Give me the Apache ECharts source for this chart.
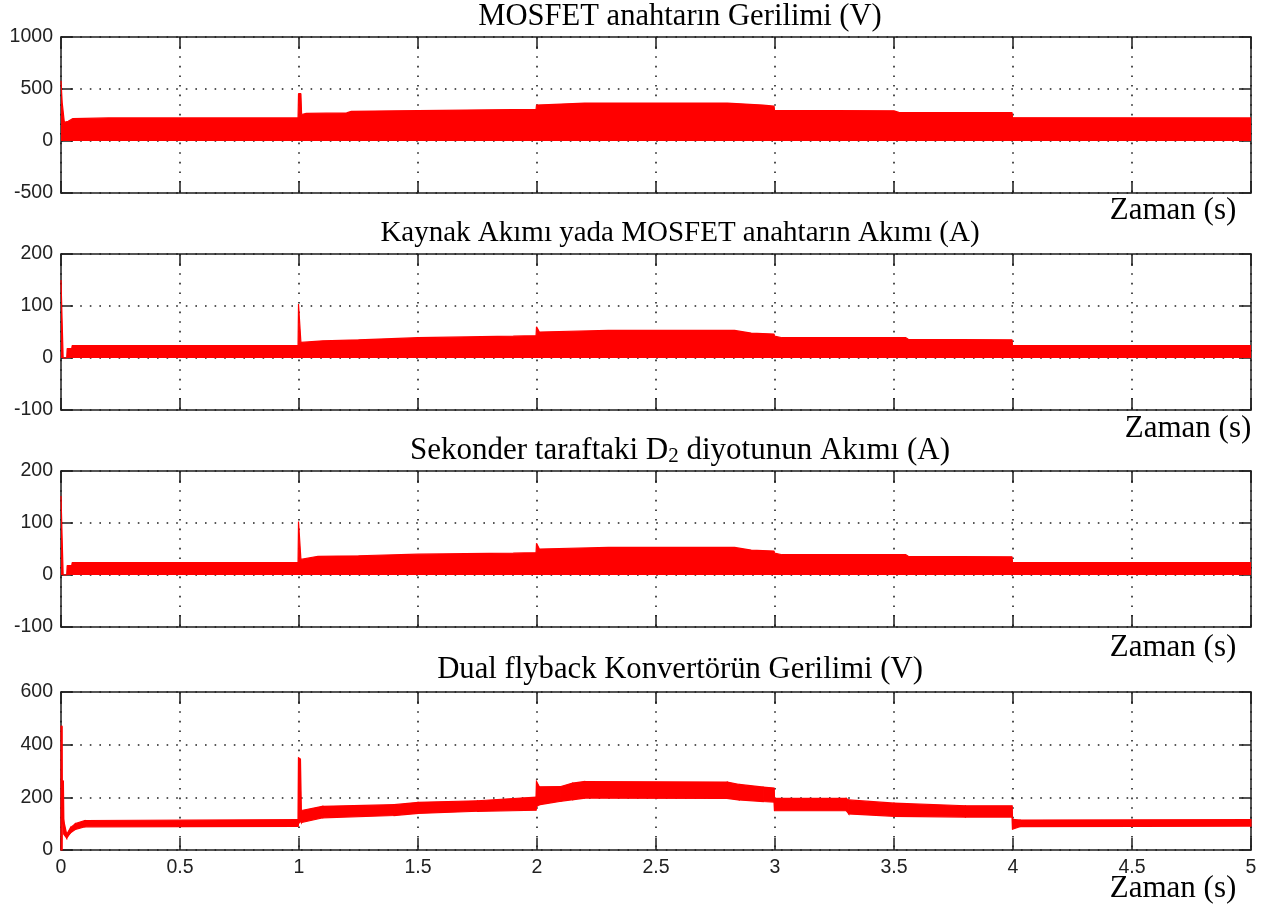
<!DOCTYPE html>
<html>
<head>
<meta charset="utf-8">
<script src="https://cdn.jsdelivr.net/npm/echarts@6/dist/echarts.min.js"></script>
<style>html,body{margin:0;padding:0;background:#fff;}#c{width:1266px;height:914px;}</style>
</head>
<body>
<div id="c"></div>
<script>
// ---- data ----
const titles = [
  'MOSFET anahtarın Gerilimi (V)',
  'Kaynak Akımı yada MOSFET anahtarın Akımı (A)',
  'Sekonder taraftaki D{sub|2} diyotunun Akımı (A)',
  'Dual flyback Konvertörün Gerilimi (V)'
];
const xLabel = 'Zaman (s)';
const xTicks = [0, 0.5, 1, 1.5, 2, 2.5, 3, 3.5, 4, 4.5, 5];

// Panel 1: MOSFET voltage envelope (switching between 0 and envelope)
const T1 = [0, 0.004, 0.005, 0.012, 0.014, 0.03, 0.05, 0.2, 0.996, 0.998, 1.008, 1.011, 1.03, 1.2, 1.22, 1.5, 1.8, 1.996, 1.998, 2.1, 2.2, 2.8, 2.95, 2.996, 2.998, 3.5, 3.52, 3.996, 3.998, 5];
const V1 = [580, 580, 370, 370, 180, 190, 215, 222, 222, 455, 455, 255, 265, 270, 285, 293, 300, 305, 345, 355, 365, 365, 345, 335, 295, 290, 275, 273, 225, 222];

// Panel 2: source / MOSFET current envelope
const T2 = [0, 0.007, 0.009, 0.024, 0.026, 0.045, 0.047, 0.996, 0.998, 1.006, 1.008, 1.1, 1.25, 1.5, 1.9, 1.996, 1.998, 2.006, 2.01, 2.3, 2.83, 2.9, 2.996, 2.998, 3.03, 3.55, 3.56, 3.996, 3.998, 5];
const V2 = [150, 150, 0, 0, 18, 18, 24, 24, 104, 104, 30, 33, 35, 39, 42, 43, 60, 60, 50, 53, 53, 48, 46, 42, 39, 39, 36, 35, 24, 24];

// Panel 3: D2 diode current envelope
const T3 = [0, 0.007, 0.009, 0.024, 0.026, 0.045, 0.047, 0.996, 0.998, 1.006, 1.008, 1.08, 1.25, 1.5, 1.9, 1.996, 1.998, 2.006, 2.01, 2.3, 2.83, 2.9, 2.996, 2.998, 3.03, 3.55, 3.56, 3.996, 3.998, 5];
const V3 = [152, 152, 0, 0, 18, 18, 24, 24, 103, 103, 30, 36, 37, 40, 42, 43, 61, 61, 50, 53, 53, 48, 46, 42, 39, 39, 36, 35, 24, 24];

// Panel 4: output voltage ripple band (upper / lower)
const T4 = [0, 0.004, 0.005, 0.010, 0.012, 0.024, 0.04, 0.06, 0.1, 0.996, 0.998, 1.006, 1.01, 1.1, 1.4, 1.5, 1.75, 1.996, 1.998, 2.01, 2.1, 2.15, 2.2, 2.8, 2.85, 2.95, 2.996, 2.998, 3.3, 3.31, 3.5, 3.8, 3.996, 3.998, 4.03, 5];
const U4 = [470, 470, 262, 262, 110, 60, 85, 100, 112, 115, 350, 345, 150, 166, 172, 181, 187, 201, 260, 240, 241, 254, 260, 258, 249, 239, 235, 196, 196, 190, 178, 168, 168, 116, 114, 115];
const L4 = [0, 0, 100, 100, 60, 45, 65, 78, 88, 90, 100, 110, 104, 122, 131, 139, 147, 151, 165, 172, 185, 191, 197, 196, 190, 184, 182, 149, 149, 137, 128, 125, 125, 79, 89, 91];

const yRanges = [
  {min: -500, max: 1000, interval: 500},
  {min: -100, max: 200, interval: 100},
  {min: -100, max: 200, interval: 100},
  {min: 0, max: 600, interval: 200}
];

// ---- layout ----
const grids = [
  {left: 61, top: 37, width: 1190, height: 156},
  {left: 61, top: 254, width: 1190, height: 156},
  {left: 61, top: 471, width: 1190, height: 156},
  {left: 61, top: 692, width: 1190, height: 158}
];
const titleY = [17, 233, 451, 670];
const titleSize = [30.6, 29, 31, 30.7];
const zamanPos = [[1173, 211], [1188, 429], [1173, 648], [1173, 889]];

const RED = '#ff0000';
const INK = '#1e1e1e';
const axisLineStyle = {color: INK, width: 1.5};
const tickStyle = {show: true, inside: true, length: 12, lineStyle: {color: INK, width: 1.5}};
const gridLine = {show: true, lineStyle: {color: '#222', width: 1.6, type: [1.6, 8]}};
const labelFont = {color: '#222', fontFamily: 'Liberation Sans', fontSize: 19.5};

const xAxis = [], yAxis = [];
grids.forEach((g, i) => {
  xAxis.push({
    type: 'value', gridIndex: i, min: 0, max: 5, interval: 0.5, position: 'bottom',
    axisLine: {show: true, onZero: false, lineStyle: axisLineStyle},
    axisTick: tickStyle,
    axisLabel: Object.assign({show: i === 3, margin: 8, formatter: v => String(v)}, labelFont),
    splitLine: gridLine
  });
  xAxis.push({
    type: 'value', gridIndex: i, min: 0, max: 5, interval: 0.5, position: 'top',
    axisLine: {show: true, onZero: false, lineStyle: axisLineStyle},
    axisTick: tickStyle, axisLabel: {show: false}, splitLine: {show: false}
  });
  const r = yRanges[i];
  yAxis.push({
    type: 'value', gridIndex: i, min: r.min, max: r.max, interval: r.interval, position: 'left',
    axisLine: {show: true, onZero: false, lineStyle: axisLineStyle},
    axisTick: tickStyle,
    axisLabel: Object.assign({show: true, margin: 8, formatter: v => String(v)}, labelFont),
    splitLine: gridLine
  });
  yAxis.push({
    type: 'value', gridIndex: i, min: r.min, max: r.max, interval: r.interval, position: 'right',
    axisLine: {show: true, onZero: false, lineStyle: axisLineStyle},
    axisTick: tickStyle, axisLabel: {show: false}, splitLine: {show: false}
  });
});

function pairs(T, V) { return T.map((t, k) => [t, V[k]]); }
function envSeries(i, T, V) {
  return {
    type: 'line', xAxisIndex: 2 * i, yAxisIndex: 2 * i, data: pairs(T, V),
    showSymbol: false, symbol: 'none', silent: true,
    lineStyle: {color: RED, width: 1.2},
    areaStyle: {color: RED, opacity: 1, origin: 'auto'}
  };
}
const bandData = T4.map((t, k) => [t, U4[k], L4[k]]);
const series = [
  envSeries(0, T1, V1),
  envSeries(1, T2, V2),
  envSeries(2, T3, V3),
  {
    type: 'custom', xAxisIndex: 6, yAxisIndex: 6, silent: true,
    data: bandData,
    encode: {x: 0, y: [1, 2]},
    renderItem: function (params, api) {
      const k = params.dataIndex;
      if (k >= bandData.length - 1) return null;
      const t0 = api.value(0), u0 = api.value(1), l0 = api.value(2);
      const n = bandData[k + 1];
      const pts = [
        api.coord([t0, u0]), api.coord([n[0], n[1]]),
        api.coord([n[0], n[2]]), api.coord([t0, l0])
      ];
      return {
        type: 'polygon', shape: {points: pts},
        style: {fill: RED, stroke: RED, lineWidth: 1.2}
      };
    }
  }
];

const serif = '"Liberation Serif", "Times New Roman", serif';
const graphic = [];
titles.forEach((t, i) => {
  const fs = titleSize[i];
  graphic.push({
    type: 'text', x: 680, y: titleY[i], z: 100,
    style: {
      text: t, fill: '#000', font: fs + 'px ' + serif, align: 'center', verticalAlign: 'middle',
      rich: {sub: {fontSize: 21, fontFamily: serif, fill: '#000', verticalAlign: 'bottom', padding: [10, 0, 0, 0]}}
    }
  });
});
zamanPos.forEach(p => {
  graphic.push({
    type: 'text', x: p[0], y: p[1], z: 100,
    style: {text: xLabel, fill: '#000', font: '31px ' + serif, align: 'center', verticalAlign: 'middle'}
  });
});

const chart = echarts.init(document.getElementById('c'), null, {renderer: 'canvas'});
chart.setOption({
  animation: false,
  backgroundColor: '#fff',
  grid: grids,
  xAxis: xAxis,
  yAxis: yAxis,
  series: series,
  graphic: graphic
});
</script>
</body>
</html>
